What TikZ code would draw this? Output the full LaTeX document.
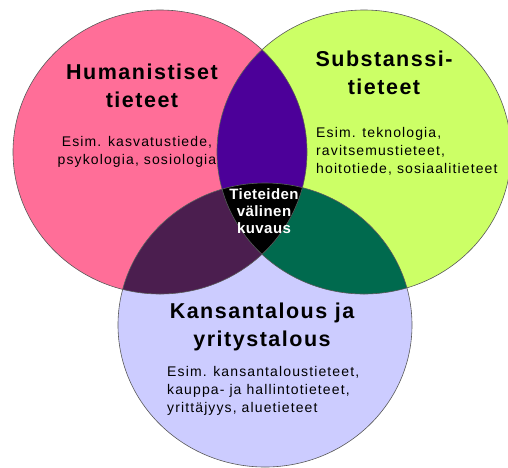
\documentclass[tikz,border=0pt]{standalone}
\usepackage{fontspec}
\setmainfont{Liberation Sans}
\newfontfamily\headfont[LetterSpace=7]{Liberation Sans}
\newfontfamily\bodyfont[LetterSpace=8]{Liberation Sans}
\newfontfamily\midfont[LetterSpace=3]{Liberation Sans}
\usetikzlibrary{positioning}
\definecolor{humpink}{HTML}{FF6E98}
\definecolor{subgreen}{HTML}{CCFF66}
\definecolor{kanblue}{HTML}{CCCCFF}
\definecolor{hsviolet}{HTML}{4C0099}
\definecolor{hkplum}{HTML}{4B1E4F}
\definecolor{skgreen}{HTML}{006A4E}
\newcommand{\pinkpath}{(160,152) ellipse [x radius=147pt, y radius=142pt]}
\newcommand{\greenpath}{(364,152) ellipse [x radius=147pt, y radius=142pt]}
\newcommand{\bluepath}{(265,325) ellipse [x radius=147pt, y radius=142pt]}

\begin{document}
\begin{tikzpicture}[x=1pt,y=-1pt,
  rim/.style={draw=black!65,line width=0.6pt},
  head/.style={font=\headfont\bfseries\fontsize{21.5}{28}\selectfont,align=center,inner sep=0pt},
  body/.style={font=\bodyfont\fontsize{14}{18}\selectfont,inner sep=0pt},
  mid/.style={font=\midfont\bfseries\fontsize{15}{17}\selectfont,align=center,text=white,inner sep=0pt}]
  \useasboundingbox (0,0) rectangle (508,467);

  \fill[humpink] \pinkpath;
  \fill[subgreen] \greenpath;
  \fill[kanblue] \bluepath;
  \begin{scope}
    \clip \pinkpath;
    \fill[hsviolet] \greenpath;
    \fill[hkplum] \bluepath;
  \end{scope}
  \begin{scope}
    \clip \greenpath;
    \fill[skgreen] \bluepath;
    \clip \pinkpath;
    \fill[black] \bluepath;
  \end{scope}
  \draw[rim] \pinkpath;
  \draw[rim] \greenpath;
  \draw[rim] \bluepath;

  \node[head] (hum) at (142,86) {Humanistiset\\tieteet};
  \node[body,align=center] (humex) at (137,152) {Esim. kasvatustiede,\\psykologia, sosiologia};

  \node[head] (sub) at (384,73) {Substanssi-\\tieteet};
  \node[body,align=left,anchor=west] (subex) at (316,151) {Esim. teknologia,\\ravitsemustieteet,\\hoitotiede, sosiaalitieteet};

  \node[mid] (yht) at (264,211) {Tieteiden\\välinen\\kuvaus};

  \node[head] (kan) at (262,327) {Kansantalous ja\\yritystalous};
  \node[body,align=left,anchor=west] (kanex) at (167,391) {Esim. kansantaloustieteet,\\kauppa- ja hallintotieteet,\\yrittäjyys, aluetieteet};
\end{tikzpicture}
\end{document}
